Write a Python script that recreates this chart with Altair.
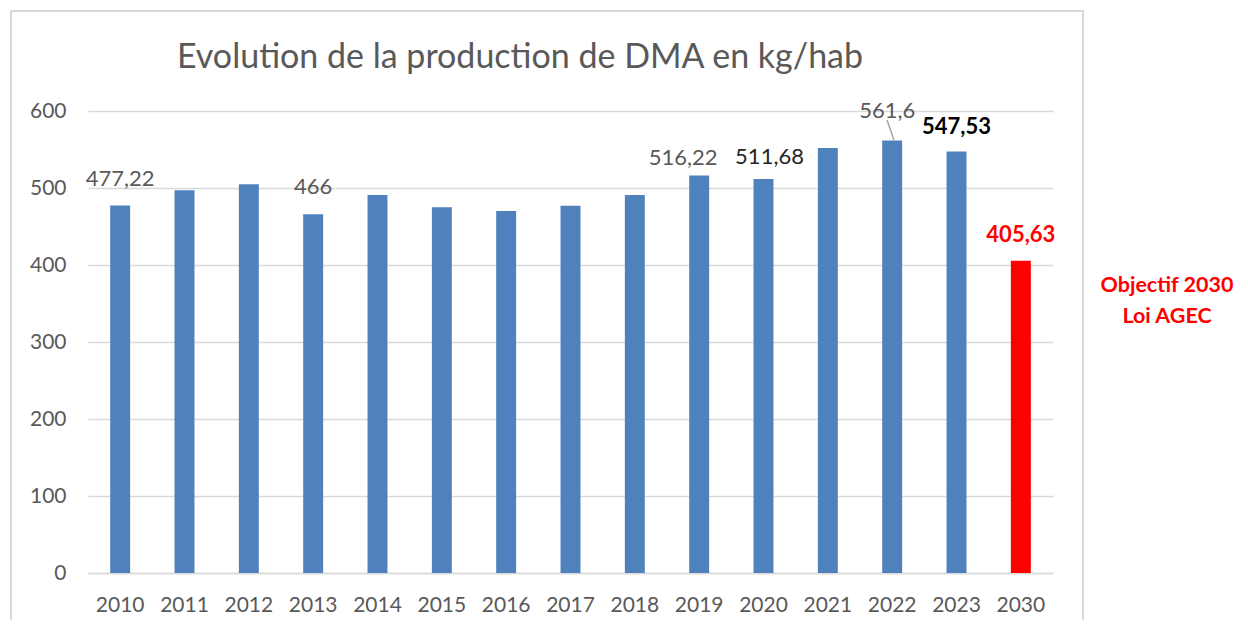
import altair as alt
import pandas as pd

years = ["2010", "2011", "2012", "2013", "2014", "2015", "2016", "2017",
         "2018", "2019", "2020", "2021", "2022", "2023", "2030"]
values = [477.22, 497, 505, 466, 491, 475, 470, 477, 491, 516.22, 511.68, 552, 561.6, 547.53, 405.63]
colors = ["#4F81BD"] * 14 + ["#FF0000"]

title_text = "Evolution de la production de DMA en kg/hab"
note_lines = ["Objectif 2030", "Loi AGEC"]

FONT = "Lato"
GRAY = "#595959"

df = pd.DataFrame({"year": years, "value": values, "color": colors})

x_enc = alt.X("year:N", sort=years,
              scale=alt.Scale(paddingInner=0.69, paddingOuter=0.345),
              axis=alt.Axis(title=None, labelAngle=0, labelFont=FONT, labelFontSize=21,
                            labelColor=GRAY, labelPadding=21, ticks=False,
                            domain=True, domainColor="#d9d9d9", domainWidth=1.5, grid=False))
y_enc = alt.Y("value:Q", scale=alt.Scale(domain=[0, 600], nice=False),
              axis=alt.Axis(title=None, values=[0, 100, 200, 300, 400, 500, 600],
                            labelFont=FONT, labelFontSize=21, labelColor=GRAY,
                            labelPadding=22, ticks=False, domain=False,
                            gridColor="#d9d9d9", gridWidth=1.5))

bars = alt.Chart(df).mark_bar().encode(
    x=x_enc, y=y_enc, color=alt.Color("color:N", scale=None)
)

def label(year, text, color, bold, dx, dy):
    sub = df[df.year == year].assign(lab=text)
    return alt.Chart(sub).mark_text(
        font=FONT, fontSize=22, color=color, fontWeight="bold" if bold else "normal",
        baseline="middle", align="center", dx=dx, dy=dy
    ).encode(x=alt.X("year:N", sort=years), y="value:Q", text="lab:N")

labels = [
    label("2010", "477,22", GRAY, False, 0, -27),
    label("2013", "466", GRAY, False, 0, -27),
    label("2019", "516,22", GRAY, False, -16, -18),
    label("2020", "511,68", "#262626", False, 6, -22),
    label("2022", "561,6", GRAY, False, -5, -30),
    label("2023", "547,53", "#000000", True, 0, -24),
    label("2030", "405,63", "#FF0000", True, 0, -26),
]

one = pd.DataFrame({"k": [0]})

leader = alt.Chart(one).mark_rule(color="#a6a6a6", strokeWidth=1.5).encode(
    x=alt.value(799), x2=alt.value(806), y=alt.value(9), y2=alt.value(29))

title = alt.Chart(one).mark_text(
    text=title_text, font=FONT, fontSize=34, color=GRAY, align="center", baseline="middle"
).encode(x=alt.value(432), y=alt.value(-53))

note = alt.Chart(pd.DataFrame({"t": [note_lines]})).mark_text(
    font=FONT, fontSize=21.5, fontWeight="bold", color="#FF0000", align="center",
    baseline="middle", lineHeight=31
).encode(x=alt.value(1079), y=alt.value(175), text="t")

border = alt.Chart(one).mark_rect(fillOpacity=0, stroke="#d9d9d9", strokeWidth=2).encode(
    x=alt.value(-77), x2=alt.value(995), y=alt.value(-100), y2=alt.value(540))

chart = alt.layer(border, bars, *labels, leader, title, note).properties(
    width=965, height=462,
    autosize=alt.AutoSizeParams(type="none"),
    padding={"left": 80, "top": 103, "right": 187, "bottom": 47},
    background="white",
).configure_view(stroke=None)

chart.save("out.html", embed_options={"renderer": "svg", "actions": False})
